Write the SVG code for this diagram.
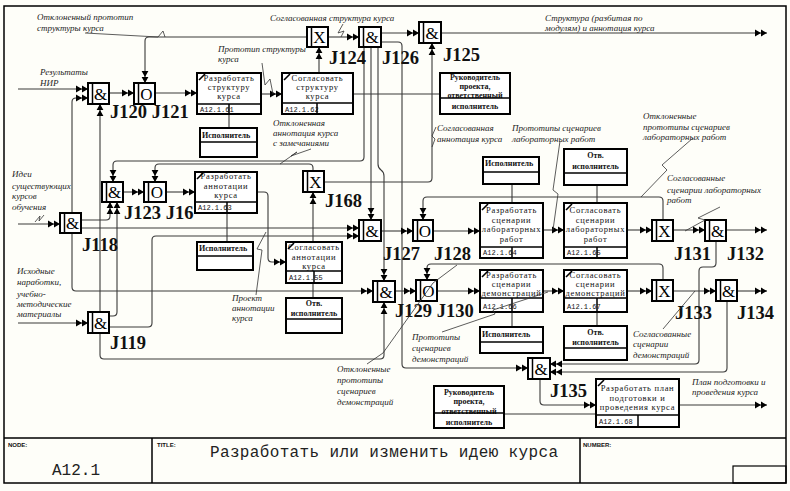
<svg xmlns="http://www.w3.org/2000/svg" width="790" height="491" viewBox="0 0 790 491">
<defs>
<marker id="a" markerUnits="userSpaceOnUse" markerWidth="14" markerHeight="8" refX="12" refY="4" orient="auto" overflow="visible"><path d="M0 .6L6 4L0 7.4ZM6 .6L12 4L6 7.4Z" fill="#000"/></marker>
</defs>
<style>
.c{fill:none;stroke:#3a3a3a;stroke-width:1.1}
.a{marker-end:url(#a)}
.ld{fill:none;stroke:#333;stroke-width:.8}
.bx{fill:#fff;stroke:#000;stroke-width:2}
.bl{fill:none;stroke:#000;stroke-width:1.5}
.ic{fill:none;stroke:#000;stroke-width:1.6}
.jb{fill:#fff;stroke:#000;stroke-width:2}
.lb{font-family:"Liberation Serif",serif;font-style:italic;font-size:9px;fill:#222}
.bt{font-family:"Liberation Serif",serif;font-size:8.5px;text-anchor:middle;letter-spacing:.7px;fill:#111}
.rt{font-family:"Liberation Serif",serif;font-size:8px;font-weight:bold;fill:#111}
.rc{font-family:"Liberation Serif",serif;font-size:8px;font-weight:bold;fill:#111;text-anchor:middle}
.id{font-family:"Liberation Mono",monospace;font-size:7px;fill:#111}
.jl{font-family:"Liberation Serif",serif;font-weight:bold;font-size:18.5px;fill:#111}
.js{font-family:"Liberation Serif",serif;font-size:17px;text-anchor:middle;fill:#000}
.ft{font-family:"Liberation Sans",sans-serif;font-size:6px;font-weight:bold;fill:#111}
.fm{font-family:"Liberation Mono",monospace;font-size:16px;fill:#222}
</style>
<rect x="0" y="0" width="790" height="491" fill="#fefef9"/>
<rect x="4" y="6" width="782" height="477" fill="none" stroke="#000" stroke-width="1.5"/>

<g id="connectors">
<path class="c a" d="M18 89H88"/>
<path class="c a" d="M72 213V102Q72 98 76 98H88"/>
<path class="c a" d="M72 233V287Q72 291 76 291H373"/>
<path class="c a" d="M81 228H359"/>
<path class="c a" d="M81 220H106Q110 220 110 216V202"/>
<path class="c a" d="M100 312V104"/>
<path class="c a" d="M100 333V355Q100 359 104 359H380Q384 359 384 355V302"/>
<path class="c a" d="M109 316H113Q117 316 117 312V202"/>
<path class="c a" d="M109 327H148Q152 327 152 323V240Q152 236 156 236H359"/>
<path class="c a" d="M18 224H60"/>
<path class="c a" d="M18 323H88"/>
<path class="c a" d="M109 93H134"/>
<path class="c a" d="M155 93H197"/>
<path class="c a" d="M261 94H282"/>
<path class="c a" d="M319 73V47"/>
<path class="c a" d="M307 37H149Q145 37 145 41V83"/>
<path class="c a" d="M328 37H359"/>
<path class="c a" d="M381 33H419"/>
<path class="c a" d="M441 33H767"/>
<path class="c a" d="M364 47V157Q364 161 360 161H117Q113 161 113 165V182"/>
<path class="c a" d="M371 47V220"/>
<path class="c a" d="M378 47V164Q378 168 381 170Q384 172 384 176V281"/>
<path class="c a" d="M381 42H398Q402 42 402 46V364Q402 368 406 368H528"/>
<path class="c" d="M353 94H440"/>
<path class="c a" d="M123 192H144"/>
<path class="c a" d="M166 192H195"/>
<path class="c a" d="M257 192H264Q268 192 268 196V258Q268 262 272 262H286"/>
<path class="c a" d="M313 242V192"/>
<path class="c a" d="M313 171V168Q313 164 309 164H159Q155 164 155 168V182"/>
<path class="c a" d="M324 182H428Q432 182 432 178V43"/>
<path class="c a" d="M381 231H413"/>
<path class="c a" d="M433 231H480"/>
<path class="c a" d="M663 220V201Q663 197 659 197H427Q423 197 423 201V220"/>
<path class="c a" d="M543 230H564"/>
<path class="c a" d="M627 230H652"/>
<path class="c a" d="M673 230H705"/>
<path class="c a" d="M726 230H767"/>
<path class="c a" d="M716 241V263Q716 267 712 267H703Q699 267 699 271V360Q699 364 695 364H550"/>
<path class="c a" d="M395 291H416"/>
<path class="c a" d="M437 291H480"/>
<path class="c a" d="M663 280V268Q663 264 659 264H431Q427 264 427 268V280"/>
<path class="c a" d="M543 291H564"/>
<path class="c a" d="M627 291H652"/>
<path class="c a" d="M673 291H716"/>
<path class="c a" d="M737 291H767"/>
<path class="c a" d="M727 301V368Q727 372 723 372H550"/>
<path class="c a" d="M540 379V401Q540 405 544 405H596"/>
<path class="c a" d="M679 405H767"/>
<path class="c" d="M504 414H596"/>
<path class="c" d="M229 114V128M227 213V242M313 283V298M512 184V203M597 185V203M512 312V327M597 312V326"/>
</g>

<g id="arrow-labels">
<text class="lb" x="37" y="20">Отклоненный прототип</text>
<text class="lb" x="37" y="31">структуры курса</text>
<text class="lb" x="40" y="75">Результаты</text>
<text class="lb" x="40" y="86">НИР</text>
<text class="lb" x="218" y="52">Прототип структуры</text>
<text class="lb" x="218" y="62">курса</text>
<text class="lb" x="270" y="21">Согласованная структура курса</text>
<text class="lb" x="545" y="21">Структура (разбитая по</text>
<text class="lb" x="545" y="31">модулям) и аннотация курса</text>
<text class="lb" x="273" y="126">Отклоненная</text>
<text class="lb" x="273" y="136">аннотация курса</text>
<text class="lb" x="273" y="146">с замечаниями</text>
<text class="lb" x="437" y="131">Согласованная</text>
<text class="lb" x="437" y="142">аннотация курса</text>
<text class="lb" x="512" y="131">Прототипы сценариев</text>
<text class="lb" x="512" y="142">лабораторных работ</text>
<text class="lb" x="643" y="119">Отклоненные</text>
<text class="lb" x="643" y="130">прототипы сценариев</text>
<text class="lb" x="643" y="140">лабораторных работ</text>
<text class="lb" x="667" y="181">Согласованные</text>
<text class="lb" x="667" y="193">сценарии лабораторных</text>
<text class="lb" x="667" y="203">работ</text>
<text class="lb" x="12" y="177">Идеи</text>
<text class="lb" x="12" y="189">существующих</text>
<text class="lb" x="12" y="199">курсов</text>
<text class="lb" x="12" y="210">обучения</text>
<text class="lb" x="17" y="274">Исходные</text>
<text class="lb" x="17" y="285">наработки,</text>
<text class="lb" x="17" y="297">учебно-</text>
<text class="lb" x="17" y="307">методические</text>
<text class="lb" x="17" y="317">материалы</text>
<text class="lb" x="232" y="301">Проект</text>
<text class="lb" x="232" y="311">аннотации</text>
<text class="lb" x="232" y="321">курса</text>
<text class="lb" x="412" y="340">Прототипы</text>
<text class="lb" x="412" y="351">сценариев</text>
<text class="lb" x="412" y="362">демонстраций</text>
<text class="lb" x="337" y="372">Отклоненные</text>
<text class="lb" x="337" y="383">прототипы</text>
<text class="lb" x="337" y="394">сценариев</text>
<text class="lb" x="337" y="405">демонстраций</text>
<text class="lb" x="633" y="337">Согласованные</text>
<text class="lb" x="633" y="347">сценарии</text>
<text class="lb" x="633" y="358">демонстраций</text>
<text class="lb" x="692" y="385">План подготовки и</text>
<text class="lb" x="692" y="395">проведения курса</text>
</g>

<g id="junction-labels">
<text class="jl" x="110" y="118">J120 J121</text>
<text class="jl" x="329" y="64">J124</text>
<text class="jl" x="382" y="64">J126</text>
<text class="jl" x="443" y="61">J125</text>
<text class="jl" x="124" y="219">J123 J16</text>
<text class="jl" x="82" y="251">J118</text>
<text class="jl" x="110" y="349">J119</text>
<text class="jl" x="325" y="207">J168</text>
<text class="jl" x="383" y="260">J127</text>
<text class="jl" x="434" y="260">J128</text>
<text class="jl" x="395" y="317">J129 J130</text>
<text class="jl" x="674" y="260">J131</text>
<text class="jl" x="727" y="260">J132</text>
<text class="jl" x="675" y="319">J133</text>
<text class="jl" x="737" y="319">J134</text>
<text class="jl" x="550" y="397">J135</text>
</g>

<g id="J120"><rect class="jb" x="88" y="83" width="21" height="21"/><path class="bl" d="M92.5 83V104"/><text class="js" x="100.5" y="99.5">&amp;</text></g>
<g id="J121"><rect class="jb" x="134" y="83" width="21" height="21"/><path class="bl" d="M138.5 83V104"/><text class="js" x="146.5" y="99.5">O</text></g>
<g id="J124"><rect class="jb" x="307" y="27" width="21" height="20"/><path class="bl" d="M311.5 27V47"/><text class="js" x="319.5" y="43">X</text></g>
<g id="J126"><rect class="jb" x="359" y="27" width="22" height="20"/><path class="bl" d="M363.5 27V47"/><text class="js" x="372" y="43">&amp;</text></g>
<g id="J125"><rect class="jb" x="419" y="22" width="22" height="21"/><path class="bl" d="M423.5 22V43"/><text class="js" x="432" y="38.5">&amp;</text></g>
<g id="J123"><rect class="jb" x="102" y="182" width="21" height="20"/><path class="bl" d="M106.5 182V202"/><text class="js" x="114.5" y="198">&amp;</text></g>
<g id="J167"><rect class="jb" x="144" y="182" width="22" height="20"/><path class="bl" d="M148.5 182V202"/><text class="js" x="157" y="198">O</text></g>
<g id="J118"><rect class="jb" x="60" y="213" width="21" height="20"/><path class="bl" d="M64.5 213V233"/><text class="js" x="72.5" y="229">&amp;</text></g>
<g id="J119"><rect class="jb" x="88" y="312" width="21" height="21"/><path class="bl" d="M92.5 312V333"/><text class="js" x="100.5" y="328.5">&amp;</text></g>
<g id="J168"><rect class="jb" x="303" y="171" width="21" height="21"/><path class="bl" d="M307.5 171V192"/><text class="js" x="315.5" y="187.5">X</text></g>
<g id="J127"><rect class="jb" x="359" y="220" width="22" height="21"/><path class="bl" d="M363.5 220V241"/><text class="js" x="372" y="236.5">&amp;</text></g>
<g id="J128"><rect class="jb" x="413" y="220" width="20" height="21"/><path class="bl" d="M417.5 220V241"/><text class="js" x="425" y="236.5">O</text></g>
<g id="J129"><rect class="jb" x="373" y="281" width="22" height="21"/><path class="bl" d="M377.5 281V302"/><text class="js" x="386" y="297.5">&amp;</text></g>
<g id="J130"><rect class="jb" x="416" y="280" width="21" height="21"/><path class="bl" d="M420.5 280V301"/><text class="js" x="428.5" y="296.5">O</text></g>
<g id="J131"><rect class="jb" x="652" y="220" width="21" height="21"/><path class="bl" d="M656.5 220V241"/><text class="js" x="664.5" y="236.5">X</text></g>
<g id="J132"><rect class="jb" x="705" y="220" width="21" height="21"/><path class="bl" d="M709.5 220V241"/><text class="js" x="717.5" y="236.5">&amp;</text></g>
<g id="J133"><rect class="jb" x="652" y="280" width="21" height="21"/><path class="bl" d="M656.5 280V301"/><text class="js" x="664.5" y="296.5">X</text></g>
<g id="J134"><rect class="jb" x="716" y="280" width="21" height="21"/><path class="bl" d="M720.5 280V301"/><text class="js" x="728.5" y="296.5">&amp;</text></g>
<g id="J135"><rect class="jb" x="528" y="358" width="22" height="21"/><path class="bl" d="M532.5 358V379"/><text class="js" x="541" y="374.5">&amp;</text></g>

<g id="A12.1.61"><rect class="bx" x="197" y="73" width="64" height="41"/><text class="bt" x="229" y="81">Разработать</text><text class="bt" x="229" y="90">структуру</text><text class="bt" x="229" y="99">курса</text><text class="id" x="200" y="111.5">A12.1.61</text><path class="bl" d="M197 104H261M229 104V114"/><path class="ic" d="M199 80L205 74"/></g>
<g id="A12.1.62"><rect class="bx" x="282" y="73" width="71" height="41"/><text class="bt" x="317.5" y="81">Согласовать</text><text class="bt" x="317.5" y="90">структуру</text><text class="bt" x="317.5" y="99">курса</text><text class="id" x="285" y="111.5">A12.1.62</text><path class="bl" d="M282 103H353M317 103V114"/><path class="ic" d="M284 80L290 74"/></g>
<g id="A12.1.63"><rect class="bx" x="195" y="172" width="62" height="41"/><text class="bt" x="226" y="179">Разработать</text><text class="bt" x="226" y="188.5">аннотации</text><text class="bt" x="226" y="198">курса</text><text class="id" x="198" y="210">A12.1.63</text><path class="bl" d="M195 202H257M227 202V213"/><path class="ic" d="M197 179L203 173"/></g>
<g id="A12.1.55"><rect class="bx" x="286" y="242" width="56" height="41"/><text class="bt" x="314" y="250">Согласовать</text><text class="bt" x="314" y="260">аннотации</text><text class="bt" x="314" y="269">курса</text><text class="id" x="289" y="280">A12.1.55</text><path class="bl" d="M286 271H342M314 271V283"/><path class="ic" d="M288 249L294 243"/></g>
<g id="A12.1.64"><rect class="bx" x="480" y="203" width="63" height="55"/><text class="bt" x="511.5" y="213">Разработать</text><text class="bt" x="511.5" y="223">сценарии</text><text class="bt" x="511.5" y="232">лабораторных</text><text class="bt" x="511.5" y="242">работ</text><text class="id" x="483" y="255">A12.1.64</text><path class="bl" d="M480 247H543M512 247V258"/><path class="ic" d="M482 210L488 204"/></g>
<g id="A12.1.65"><rect class="bx" x="564" y="203" width="63" height="55"/><text class="bt" x="595.5" y="213">Согласовать</text><text class="bt" x="595.5" y="223">сценарии</text><text class="bt" x="595.5" y="232">лабораторных</text><text class="bt" x="595.5" y="242">работ</text><text class="id" x="567" y="255">A12.1.65</text><path class="bl" d="M564 247H627M597 247V258"/><path class="ic" d="M566 210L572 204"/></g>
<g id="A12.1.66"><rect class="bx" x="480" y="270" width="63" height="42"/><text class="bt" x="511.5" y="278">Разработать</text><text class="bt" x="511.5" y="287">сценарии</text><text class="bt" x="511.5" y="296">демонстраций</text><text class="id" x="483" y="308.5">A12.1.66</text><path class="bl" d="M480 298H543M512 298V312"/><path class="ic" d="M482 277L488 271"/></g>
<g id="A12.1.67"><rect class="bx" x="564" y="270" width="63" height="42"/><text class="bt" x="595.5" y="278">Согласовать</text><text class="bt" x="595.5" y="287">сценарии</text><text class="bt" x="595.5" y="296">демонстраций</text><text class="id" x="567" y="308.5">A12.1.67</text><path class="bl" d="M564 298H627M597 298V312"/><path class="ic" d="M566 277L572 271"/></g>
<g id="A12.1.68"><rect class="bx" x="596" y="379" width="83" height="48"/><text class="bt" x="637.5" y="391">Разработать план</text><text class="bt" x="637.5" y="400.5">подготовки и</text><text class="bt" x="637.5" y="410">проведения курса</text><text class="id" x="599" y="424">A12.1.68</text><path class="bl" d="M596 415H679M638 415V427"/><path class="ic" d="M598 386L604 380"/></g>

<g id="R-isp-61"><rect class="bx" x="200" y="128" width="57" height="29"/><text class="rt" x="202" y="137.5">Исполнитель</text><path class="bl" d="M200 142H257"/></g>
<g id="R-ruk-top"><rect class="bx" x="440" y="73" width="70" height="41"/><text class="rc" x="475" y="80">Руководитель</text><text class="rc" x="475" y="89">проекта,</text><text class="rc" x="475" y="98">ответственный</text><text class="rc" x="475" y="109">исполнитель</text><path class="bl" d="M440 98H510"/></g>
<g id="R-isp-63"><rect class="bx" x="197" y="242" width="56" height="28"/><text class="rt" x="199" y="251">Исполнитель</text><path class="bl" d="M197 256H253"/></g>
<g id="R-otv-55"><rect class="bx" x="286" y="298" width="56" height="35"/><text class="rc" x="314" y="306">Отв.</text><text class="rc" x="314" y="316">исполнитель</text><path class="bl" d="M286 319H342"/></g>
<g id="R-isp-64"><rect class="bx" x="483" y="157" width="56" height="27"/><text class="rt" x="485" y="166">Исполнитель</text><path class="bl" d="M483 172H539"/></g>
<g id="R-otv-65"><rect class="bx" x="564" y="149" width="63" height="36"/><text class="rc" x="595.5" y="158">Отв.</text><text class="rc" x="595.5" y="169">исполнитель</text><path class="bl" d="M564 173H627"/></g>
<g id="R-isp-66"><rect class="bx" x="480" y="327" width="63" height="26"/><text class="rt" x="482" y="337">Исполнитель</text><path class="bl" d="M480 342H543"/></g>
<g id="R-otv-67"><rect class="bx" x="564" y="326" width="63" height="34"/><text class="rc" x="595.5" y="335">Отв.</text><text class="rc" x="595.5" y="345">исполнитель</text><path class="bl" d="M564 348H627"/></g>
<g id="R-ruk-bottom"><rect class="bx" x="434" y="386" width="70" height="42"/><text class="rc" x="469" y="395">Руководитель</text><text class="rc" x="469" y="404">проекта,</text><text class="rc" x="469" y="414">ответственный</text><text class="rc" x="469" y="425">исполнитель</text><path class="bl" d="M434 413H504"/></g>

<g id="label-leaders">
<path class="ld" d="M85 33L158 37L163 31L165 37"/>
<path class="ld" d="M262 63L265 85L270 79L273 94"/>
<path class="ld" d="M343 24L338 33L344 31L341 37"/>
<path class="ld" d="M436 127L432 136L435 139L432 147"/>
<path class="ld" d="M311 149L291 156L297 152L280 164"/>
<path class="ld" d="M560 141L553 190L558 194L553 230"/>
<path class="ld" d="M693 138L662 165L667 170L641 197"/>
<path class="ld" d="M720 207L698 218L705 220L685 231"/>
<path class="ld" d="M35 222L40 216L39 221L44 215"/>
<path class="ld" d="M256 295L262 250L257 249L266 232"/>
<path class="ld" d="M442 332L495 314L493 310L548 292"/>
<path class="ld" d="M367 364L383 353L433 283L457 265"/>
<path class="ld" d="M663 329L695 291"/>
</g>

<g id="footer">
<path d="M4 438H786M152 438V483M580 438V483" fill="none" stroke="#000" stroke-width="1.5"/>
<rect x="733" y="466" width="53" height="17" fill="none" stroke="#000" stroke-width="1.2"/>
<text class="ft" x="8" y="447">NODE:</text>
<text class="ft" x="157" y="447">TITLE:</text>
<text class="ft" x="583" y="447">NUMBER:</text>
<text class="fm" x="52" y="475" textLength="48">A12.1</text>
<text class="fm" x="210" y="457" textLength="348">Разработать или изменить идею курса</text>
</g>
</svg>
